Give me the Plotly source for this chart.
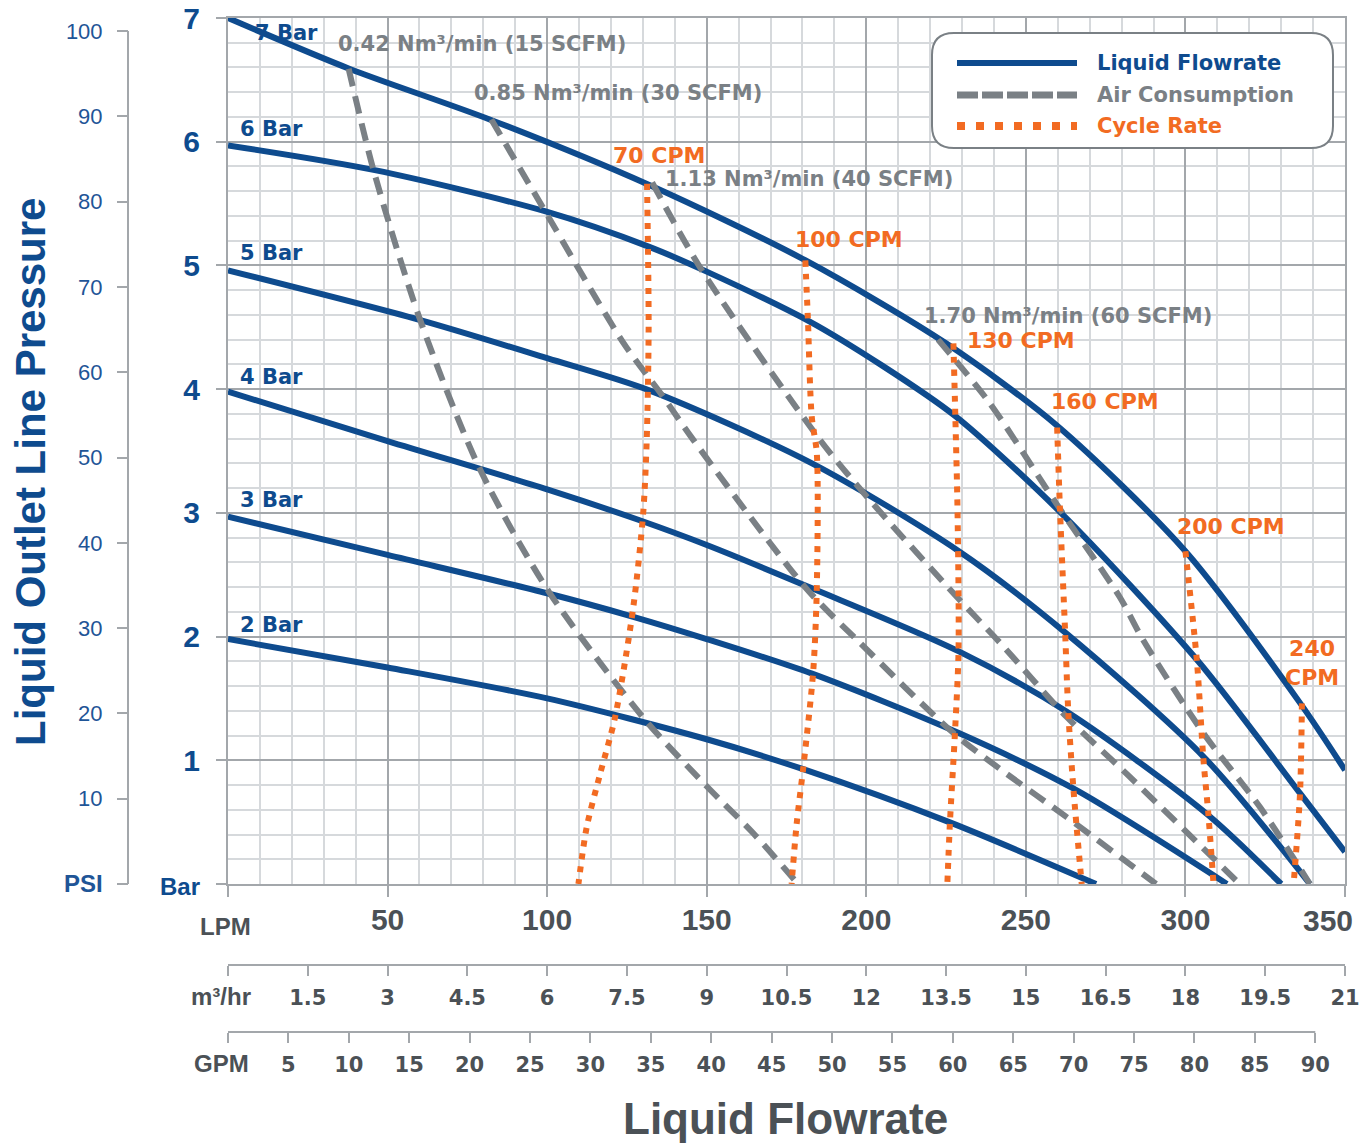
import plotly.graph_objects as go

W, H = 1370, 1145
# plot-area edges in pixels
PX0, PX1, PY_TOP, PY_BOT = 228, 1345, 18, 884

# ---------------- data ----------------
# Liquid flowrate curves (LPM, outlet pressure in bar)
lpm_7bar = [0, 38, 82, 132, 181, 225, 260, 300, 336, 350]
bar_7bar = [7.0, 6.59, 6.18, 5.65, 5.04, 4.37, 3.70, 2.69, 1.46, 0.92]
lpm_6bar = [0, 46, 99, 132, 150, 182, 205, 228, 261, 304, 336, 350]
bar_6bar = [5.97, 5.77, 5.44, 5.15, 4.95, 4.55, 4.19, 3.78, 3.0, 1.80, 0.73, 0.26]
lpm_5bar = [0, 60, 100, 132, 183, 229, 262, 306, 339]
bar_5bar = [4.96, 4.56, 4.25, 3.99, 3.40, 2.69, 2.04, 1.02, 0.0]
lpm_4bar = [0, 50, 100, 129, 150, 183, 229, 263, 307, 330]
bar_4bar = [3.98, 3.58, 3.19, 2.94, 2.74, 2.39, 1.88, 1.39, 0.56, 0.0]
lpm_3bar = [0, 50, 100, 127, 150, 183, 229, 265, 313]
bar_3bar = [2.97, 2.66, 2.35, 2.16, 1.98, 1.70, 1.22, 0.77, 0.0]
lpm_2bar = [0, 50, 100, 150, 180, 226, 272]
bar_2bar = [1.98, 1.75, 1.50, 1.17, 0.93, 0.50, 0.0]

# Air consumption curves
lpm_air_042 = [37.8, 45.6, 60.2, 79, 100.6, 130.6, 150, 164.6, 178.6]
bar_air_042 = [6.59, 5.77, 4.56, 3.35, 2.36, 1.33, 0.79, 0.41, 0.0]
lpm_air_085 = [82.5, 99.3, 124, 136.3, 145.8, 180.8, 198, 227.3, 241.9, 262.8, 290.8]
bar_air_085 = [6.18, 5.44, 4.37, 3.94, 3.59, 2.40, 1.95, 1.22, 0.93, 0.54, 0.0]
lpm_air_113 = [132.9, 148.5, 185.5, 200.2, 228.4, 241.9, 262.8, 281.6, 317]
bar_air_113 = [5.67, 4.96, 3.59, 3.13, 2.32, 1.95, 1.35, 0.89, 0.0]
lpm_air_170 = [222.5, 238.6, 256.6, 261.5, 279.4, 286.8, 305.6, 323.4, 339]
bar_air_170 = [4.40, 3.89, 3.19, 3.0, 2.32, 1.97, 1.22, 0.62, 0.0]

# Cycle-rate curves
lpm_cpm_70 = [131.3, 131.8, 131.2, 130.1, 127.0, 121.3, 116.6, 112.4, 109.8]
bar_cpm_70 = [5.66, 4.5, 3.59, 3.0, 2.24, 1.35, 0.89, 0.46, 0.0]
lpm_cpm_100 = [180.9, 181.7, 182.9, 184.5, 184.5, 183.4, 180.3, 178.2, 176.6]
bar_cpm_100 = [5.04, 4.57, 3.78, 3.48, 2.40, 1.73, 0.95, 0.49, 0.0]
lpm_cpm_130 = [227.3, 227.9, 228.6, 228.9, 227.8, 226.2, 225.4]
bar_cpm_130 = [4.37, 3.78, 3.0, 1.88, 1.23, 0.49, 0.0]
lpm_cpm_160 = [259.8, 260.7, 262.3, 263.3, 264.9, 267.5]
bar_cpm_160 = [3.69, 3.02, 2.04, 1.39, 0.77, 0.0]
lpm_cpm_200 = [300, 303.6, 305.6, 307.2, 308.8]
bar_cpm_200 = [2.69, 1.80, 1.02, 0.56, 0.0]
lpm_cpm_240 = [336.5, 335.9, 333.9]
bar_cpm_240 = [1.46, 0.73, 0.0]

# Curve labels
bar_label_text = ["7 Bar", "6 Bar", "5 Bar", "4 Bar", "3 Bar", "2 Bar"]
bar_label_x = [7.8, 3.1, 3.1, 3.1, 3.1, 3.1]
bar_label_y = [6.88, 6.10, 5.10, 4.10, 3.10, 2.09]

air_label_text = ["0.42 Nm³/min (15 SCFM)", "0.85 Nm³/min (30 SCFM)",
                  "1.13 Nm³/min (40 SCFM)", "1.70 Nm³/min (60 SCFM)"]
air_label_x = [33.8, 76.5, 136.3, 217.5]
air_label_y = [6.79, 6.39, 5.70, 4.59]

cpm_label_text = ["70 CPM", "100 CPM", "130 CPM", "160 CPM", "200 CPM", "240<br>CPM"]
cpm_label_x = [120, 177.1, 231, 257.3, 296.8, 339.7]
cpm_label_y = [5.89, 5.21, 4.39, 3.90, 2.89, 1.79]

# Axis ticks
lpm_ticks = [0, 50, 100, 150, 200, 250, 300, 350]
lpm_ticktext = ["", "50", "100", "150", "200", "250", "300", "350"]
bar_ticks = [0, 1, 2, 3, 4, 5, 6, 7]
bar_ticktext = ["<span style='font-size:24px'>Bar</span>", "1", "2", "3", "4", "5", "6", "7"]
psi_ticks = [0, 10, 20, 30, 40, 50, 60, 70, 80, 90, 100]
psi_ticktext = ["<b><span style='font-size:24px'>PSI</span></b>", "10", "20", "30", "40",
                "50", "60", "70", "80", "90", "100"]
m3_ticks = [0, 1.5, 3, 4.5, 6, 7.5, 9, 10.5, 12, 13.5, 15, 16.5, 18, 19.5, 21]
m3_ticktext = ["", "1.5", "3", "4.5", "6", "7.5", "9", "10.5", "12", "13.5", "15",
               "16.5", "18", "19.5", "21"]
gpm_ticks = [0, 5, 10, 15, 20, 25, 30, 35, 40, 45, 50, 55, 60, 65, 70, 75, 80, 85, 90]
gpm_ticktext = [""] + [str(v) for v in gpm_ticks[1:]]

PSI_PER_BAR = 14.5038
M3H_PER_LPM = 0.06
LPM_PER_GPM = 3.78541
LPM_MAX, BAR_MAX = 350, 7

# ---------------- styles ----------------
BLUE = "#0e4b8e"
GRAY = "#7a8085"
ORANGE = "#f26b22"
MAJOR = "#a3a7ab"
MINOR = "#d6d9dc"
AXTXT = "#4b5156"
PSIBLUE = "#1f5597"
ARIAL = "Liberation Sans, Arial, sans-serif"
WIDE = "DejaVu Sans, Verdana, sans-serif"


def fx(p):
    return p / W


def fy(p):
    return 1 - p / H


fig = go.Figure()

flow = [(lpm_7bar, bar_7bar), (lpm_6bar, bar_6bar), (lpm_5bar, bar_5bar),
        (lpm_4bar, bar_4bar), (lpm_3bar, bar_3bar), (lpm_2bar, bar_2bar)]
for xs, ys in flow:
    fig.add_trace(go.Scatter(x=xs, y=ys, mode="lines", hoverinfo="skip",
                             line=dict(color=BLUE, width=6, shape="spline", smoothing=0.8)))

air = [(lpm_air_042, bar_air_042), (lpm_air_085, bar_air_085),
       (lpm_air_113, bar_air_113), (lpm_air_170, bar_air_170)]
for xs, ys in air:
    fig.add_trace(go.Scatter(x=xs, y=ys, mode="lines", hoverinfo="skip",
                             line=dict(color=GRAY, width=6, dash="18px,10px",
                                       shape="spline", smoothing=0.8)))

cpm = [(lpm_cpm_70, bar_cpm_70), (lpm_cpm_100, bar_cpm_100), (lpm_cpm_130, bar_cpm_130),
       (lpm_cpm_160, bar_cpm_160), (lpm_cpm_200, bar_cpm_200), (lpm_cpm_240, bar_cpm_240)]
for xs, ys in cpm:
    fig.add_trace(go.Scatter(x=xs, y=ys, mode="lines", hoverinfo="skip",
                             line=dict(color=ORANGE, width=6, dash="6px,7px",
                                       shape="spline", smoothing=0.8)))

# empty traces so the secondary axes are instantiated
fig.add_trace(go.Scatter(x=[], y=[], xaxis="x2", yaxis="y", hoverinfo="skip"))
fig.add_trace(go.Scatter(x=[], y=[], xaxis="x3", yaxis="y", hoverinfo="skip"))
fig.add_trace(go.Scatter(x=[], y=[], xaxis="x", yaxis="y2", hoverinfo="skip"))

xdom = [fx(PX0), fx(PX1)]
ydom = [fy(PY_BOT), fy(PY_TOP)]

# the last LPM label sits left of its tick in the original, so it is placed separately
lpm_ticktext_shown = lpm_ticktext[:-1] + [""]

fig.update_layout(
    width=W, height=H, margin=dict(l=0, r=0, t=0, b=0, pad=0, autoexpand=False),
    paper_bgcolor="white", plot_bgcolor="white", showlegend=False,
    xaxis=dict(domain=xdom, range=[0, LPM_MAX], tickmode="array", tickvals=lpm_ticks,
               ticktext=lpm_ticktext_shown, ticks="outside", ticklen=11, tickwidth=2,
               tickcolor=MAJOR, ticklabelstandoff=-3, automargin=False,
               ticklabeloverflow="allow",
               tickfont=dict(family=ARIAL, size=30, color=AXTXT, weight="bold"),
               showgrid=True, gridcolor=MAJOR, gridwidth=2,
               minor=dict(tickmode="linear", tick0=0, dtick=10, showgrid=True,
                          gridcolor=MINOR, gridwidth=2, ticks=""),
               showline=True, linecolor=MAJOR, linewidth=2, mirror=True, zeroline=False),
    yaxis=dict(domain=ydom, range=[0, BAR_MAX], tickmode="array", tickvals=bar_ticks,
               ticktext=bar_ticktext, ticks="outside", ticklen=10, tickwidth=2,
               tickcolor=MAJOR, ticklabelstandoff=10, automargin=False,
               ticklabeloverflow="allow",
               tickfont=dict(family=ARIAL, size=30, color=BLUE, weight="bold"),
               showgrid=True, gridcolor=MAJOR, gridwidth=2,
               minor=dict(tickmode="linear", tick0=0, dtick=0.2, showgrid=True,
                          gridcolor=MINOR, gridwidth=2, ticks=""),
               showline=True, linecolor=MAJOR, linewidth=2, mirror=True, zeroline=False),
    yaxis2=dict(overlaying="y", anchor="free", position=fx(128), side="left",
                range=[0, BAR_MAX * PSI_PER_BAR], tickmode="array", tickvals=psi_ticks,
                ticktext=psi_ticktext, ticks="outside", ticklen=11, tickwidth=2,
                tickcolor=MAJOR, ticklabelstandoff=10, automargin=False,
                ticklabeloverflow="allow",
                tickfont=dict(family=ARIAL, size=22, color=PSIBLUE),
                showgrid=False, showline=False, zeroline=False),
    xaxis2=dict(overlaying="x", anchor="free", position=fy(965),
                range=[0, LPM_MAX * M3H_PER_LPM], tickmode="array", tickvals=m3_ticks,
                ticktext=m3_ticktext, ticks="outside", ticklen=10, tickwidth=2,
                tickcolor=MAJOR, ticklabelstandoff=4, automargin=False,
                ticklabeloverflow="allow",
                tickfont=dict(family=WIDE, size=21, color=AXTXT, weight="bold"),
                showgrid=False, showline=True, linecolor=MAJOR, linewidth=2, zeroline=False),
    xaxis3=dict(overlaying="x", anchor="free", position=fy(1032),
                range=[0, LPM_MAX / LPM_PER_GPM], tickmode="array", tickvals=gpm_ticks,
                ticktext=gpm_ticktext, ticks="outside", ticklen=10, tickwidth=2,
                tickcolor=MAJOR, ticklabelstandoff=4, automargin=False,
                ticklabeloverflow="allow",
                tickfont=dict(family=WIDE, size=21, color=AXTXT, weight="bold"),
                showgrid=False, showline=False, zeroline=False),
)

shapes = []
# PSI axis line (0 to 100 psi)
shapes.append(dict(type="line", xref="paper", yref="y2", x0=fx(128), x1=fx(128),
                   y0=psi_ticks[0], y1=psi_ticks[-1], line=dict(color=MAJOR, width=2)))
# GPM axis line (0 to 90 GPM)
shapes.append(dict(type="line", xref="x3", yref="paper", x0=gpm_ticks[0], x1=gpm_ticks[-1],
                   y0=fy(1032), y1=fy(1032), line=dict(color=MAJOR, width=2)))


def rounded_rect(x0, y0, x1, y1, r):
    def P(x, y):
        return f"{fx(x):.5f},{fy(y):.5f}"
    return (f"M {P(x0 + r, y0)} L {P(x1 - r, y0)} Q {P(x1, y0)} {P(x1, y0 + r)} "
            f"L {P(x1, y1 - r)} Q {P(x1, y1)} {P(x1 - r, y1)} "
            f"L {P(x0 + r, y1)} Q {P(x0, y1)} {P(x0, y1 - r)} "
            f"L {P(x0, y0 + r)} Q {P(x0, y0)} {P(x0 + r, y0)} Z")


# Legend box
shapes.append(dict(type="path", xref="paper", yref="paper",
                   path=rounded_rect(932, 33, 1333, 148, 22),
                   fillcolor="white", line=dict(color=GRAY, width=2), layer="above"))
legend_items = [("Liquid Flowrate", BLUE, "solid", 6, 63),
                ("Air Consumption", GRAY, "21px,4px", 7, 95),
                ("Cycle Rate", ORANGE, "8px,11px", 8, 126)]
for name, col, dash, wid, ypix in legend_items:
    shapes.append(dict(type="line", xref="paper", yref="paper", x0=fx(957), x1=fx(1077),
                       y0=fy(ypix), y1=fy(ypix), line=dict(color=col, width=wid, dash=dash),
                       layer="above"))
fig.update_layout(shapes=shapes)

ann = []
for name, col, dash, wid, ypix in legend_items:
    ann.append(dict(xref="paper", yref="paper", x=fx(1095), y=fy(ypix), text=name,
                    showarrow=False, xanchor="left", yanchor="middle",
                    font=dict(family=WIDE, size=21, color=col, weight="bold")))

for t, x, y in zip(bar_label_text, bar_label_x, bar_label_y):
    ann.append(dict(x=x, y=y, xref="x", yref="y", text=t, showarrow=False,
                    xanchor="left", yanchor="middle",
                    font=dict(family=WIDE, size=21, color=BLUE, weight="bold")))
for t, x, y in zip(air_label_text, air_label_x, air_label_y):
    ann.append(dict(x=x, y=y, xref="x", yref="y", text=t, showarrow=False,
                    xanchor="left", yanchor="middle",
                    font=dict(family=WIDE, size=21, color=GRAY, weight="bold")))
for t, x, y in zip(cpm_label_text, cpm_label_x, cpm_label_y):
    ann.append(dict(x=x, y=y, xref="x", yref="y", text=t, showarrow=False,
                    xanchor="center" if "<br>" in t else "left", yanchor="middle",
                    font=dict(family=WIDE, size=22, color=ORANGE, weight="bold")))

# last LPM tick label, nudged inside the page as in the original
ann.append(dict(xref="paper", yref="paper", x=fx(1355), y=fy(920), text=lpm_ticktext[-1],
                showarrow=False, xanchor="right", yanchor="middle",
                font=dict(family=ARIAL, size=30, color=AXTXT, weight="bold")))

# unit labels on the bottom scales
for t, xp, yp in [("LPM", 226, 926), ("m³/hr", 221, 996), ("GPM", 221, 1063)]:
    ann.append(dict(xref="paper", yref="paper", x=fx(xp), y=fy(yp), text=t, showarrow=False,
                    xanchor="center", yanchor="middle",
                    font=dict(family=ARIAL, size=24, color=AXTXT, weight="bold")))

# axis titles
ann.append(dict(xref="paper", yref="paper", x=fx(785), y=fy(1118), text="Liquid Flowrate",
                showarrow=False, xanchor="center", yanchor="middle",
                font=dict(family=ARIAL, size=44, color=AXTXT, weight="bold")))
ann.append(dict(xref="paper", yref="paper", x=fx(30), y=fy(472),
                text="Liquid Outlet Line Pressure", textangle=-90, showarrow=False,
                xanchor="center", yanchor="middle",
                font=dict(family=ARIAL, size=42, color=BLUE, weight="bold")))
fig.update_layout(annotations=ann)

# remove the default 8px page margin so the figure fills the window exactly
fig.write_html("out.html",
               config={"displayModeBar": False},
               post_script="document.body.style.margin='0';"
                           "document.body.style.overflow='hidden';")
